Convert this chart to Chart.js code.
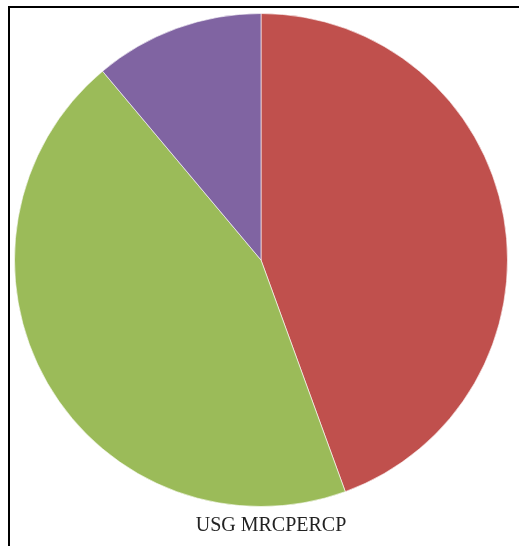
<!DOCTYPE html>
<html>
<head>
<meta charset="utf-8">
<script src="https://cdn.jsdelivr.net/npm/chart.js@4/dist/chart.umd.min.js"></script>
<style>
    html, body { margin: 0; padding: 0; background: #fff; overflow: hidden; }
    #frame { position: absolute; left: 8px; top: 6px; width: 540px; height: 580px; border: 2px solid #000; }
    #wrap { position: absolute; left: 0; top: 0; width: 519px; height: 546px; }
</style>
</head>
<body>
<div id="frame"></div>
<div id="wrap"><canvas id="pieChart"></canvas></div>
<script>
    // categories and counts
    var labels = ["USG", "MRCP", "ERCP"];
    var counts = [4, 4, 1];
    var colors = ["#C0504D", "#9BBB59", "#8064A2"];

    var pieData = {
        labels: labels,
        datasets: [
            {
                data: counts,
                backgroundColor: colors,
                hoverBackgroundColor: colors,
                borderColor: "rgba(255,255,255,0.6)",
                borderWidth: 1
            }]
    };

    var pieTarget = document.getElementById("pieChart");
    var pieChart = new Chart(pieTarget, {
        type: 'pie',
        data: pieData,
        options: {
            responsive: true,
            maintainAspectRatio: false,
            animation: false,
            layout: { padding: { top: 13, left: 14, right: 11, bottom: 0 } },
            plugins: {
                legend: { display: false },
                tooltip: { enabled: false },
                // legend entries run together under the pie, nudged a bit right
                title: {
                    display: true,
                    position: 'bottom',
                    text: '    ' + labels[0] + ' ' + labels[1] + labels[2],
                    color: '#222',
                    font: { family: 'Liberation Serif', size: 20, weight: 'normal', lineHeight: 1.2 },
                    padding: { top: 7, bottom: 8 }
                }
            }
        }
    });
</script>
</body>
</html>
